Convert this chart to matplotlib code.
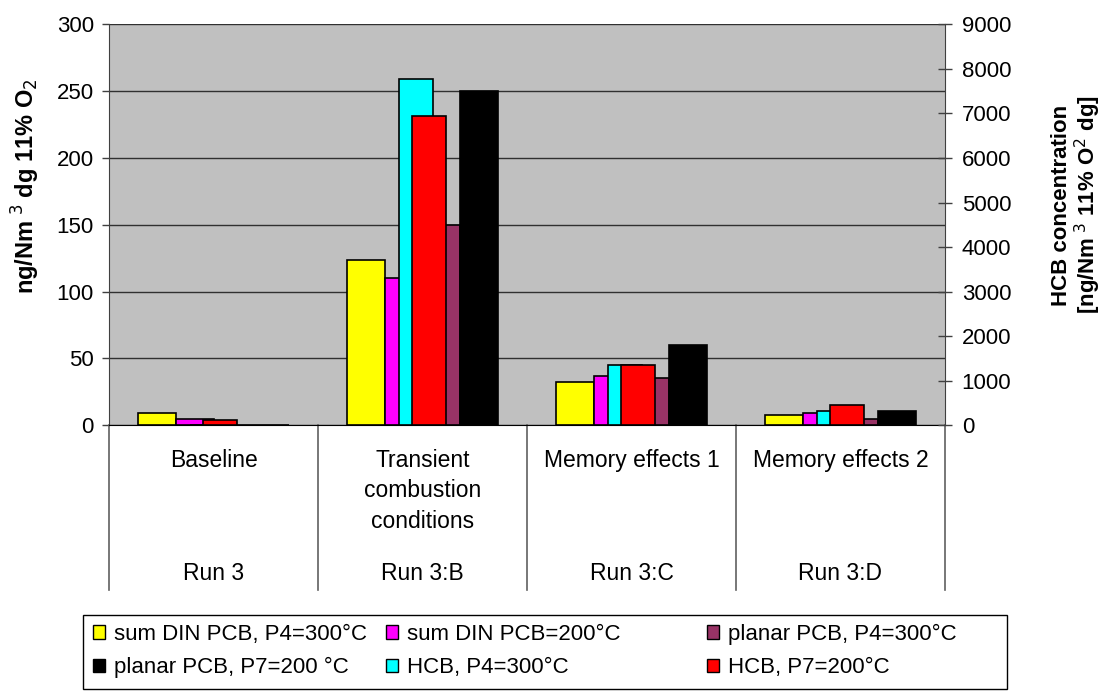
import numpy as np
import matplotlib
matplotlib.use("Agg")
import matplotlib.pyplot as plt
from matplotlib.lines import Line2D
from matplotlib.patches import Patch, Rectangle

plt.rcParams['font.family'] = ['Liberation Sans', 'DejaVu Sans']

# data
categories = ['Baseline', 'Transient\ncombustion\nconditions', 'Memory effects 1', 'Memory effects 2']
runs = ['Run 3', 'Run 3:B', 'Run 3:C', 'Run 3:D']

# left axis (PCB, ng/Nm3)
sum_din_p4 = [9, 124, 32.5, 8]
sum_din_200 = [5, 110, 37, 9]
planar_p4 = [0, 150, 35.5, 4.5]
planar_p7 = [0, 250, 60, 11]
# right axis (HCB, ng/Nm3)
hcb_p4 = [0, 7770, 1360, 320]
hcb_p7 = [110, 6940, 1360, 450]

x = np.arange(len(categories))

fig = plt.figure(figsize=(11.06, 6.94), dpi=100)
ax = fig.add_axes([0.0986, 0.3872, 0.7558, 0.5778])
ax.set_facecolor('#C0C0C0')

w1 = 0.18
primary = [(sum_din_p4, '#FFFF00'), (sum_din_200, '#FF00FF'),
           (planar_p4, '#993366'), (planar_p7, '#000000')]
for i, (vals, col) in enumerate(primary):
    ax.bar(x + (i - 1.5) * w1, vals, w1, color=col, edgecolor='black', linewidth=1.2, zorder=2)

ax.set_xlim(-0.5, 3.5)
ax.set_ylim(0, 300)
ax.set_yticks(np.arange(0, 301, 50))
ax.yaxis.grid(True, color='#303030', linewidth=1)
ax.set_axisbelow(True)
ax.tick_params(axis='y', labelsize=16, length=5, width=1, pad=6, color='#404040')
ax.set_xticks([])
for s in ['top', 'right']:
    ax.spines[s].set_visible(False)
ax.spines['left'].set_color('#404040')
ax.spines['bottom'].set_color('black')

ax2 = ax.twinx()
w2 = 0.16
d = 0.031
ax2.bar(x - d, hcb_p4, w2, color='#00FFFF', edgecolor='black', linewidth=1.2, zorder=3)
ax2.bar(x + d, hcb_p7, w2, color='#FF0000', edgecolor='black', linewidth=1.2, zorder=3)
ax2.set_ylim(0, 9000)
ax2.set_yticks(np.arange(0, 9001, 1000))
ax2.tick_params(axis='y', labelsize=16, length=10, width=1, pad=7, direction='inout', color='#404040')
for s in ['top', 'left', 'bottom']:
    ax2.spines[s].set_visible(False)
ax2.spines['right'].set_color('#404040')

# axis titles
fig.text(26 / 1106, 1 - 186 / 694, 'ng/Nm$^{\\ 3}$ dg 11% O$_2$', rotation=90,
         ha='center', va='center', fontsize=17, fontweight='bold')
fig.text(1077 / 1106, 1 - 205 / 694, 'HCB concentration\n[ng/Nm$^{\\ 3}$ 11% O$^2$ dg]',
         rotation=90, ha='center', va='center', fontsize=16, fontweight='bold',
         linespacing=1.05, multialignment='center')

# category separators and labels below the axis
for b in np.arange(-0.5, 4.0, 1.0):
    ax.add_line(Line2D([b, b], [0, -0.41], transform=ax.get_xaxis_transform(),
                       color='#606060', linewidth=1.2, clip_on=False))
for xi, cat, run in zip(x, categories, runs):
    ax.text(xi, -0.058, cat, transform=ax.get_xaxis_transform(), ha='center', va='top',
            fontsize=16.5, linespacing=1.42)
    ax.text(xi, -0.369, run, transform=ax.get_xaxis_transform(), ha='center', va='center',
            fontsize=16.5)

# legend: three columns placed like the reference, one frame around them
cols = [
    [Patch(facecolor='#FFFF00', edgecolor='black', label='sum DIN PCB, P4=300°C'),
     Patch(facecolor='#000000', edgecolor='black', label='planar PCB, P7=200 °C')],
    [Patch(facecolor='#FF00FF', edgecolor='black', label='sum DIN PCB=200°C'),
     Patch(facecolor='#00FFFF', edgecolor='black', label='HCB, P4=300°C')],
    [Patch(facecolor='#993366', edgecolor='black', label='planar PCB, P4=300°C'),
     Patch(facecolor='#FF0000', edgecolor='black', label='HCB, P7=200°C')],
]
col_x = [93 / 1106, 386 / 1106, 707 / 1106]
for hs, cx in zip(cols, col_x):
    fig.legend(handles=hs, loc='center left', bbox_to_anchor=(cx, 1 - 651 / 694),
               fontsize=16, frameon=False, borderpad=0, borderaxespad=0,
               handlelength=0.55, handleheight=0.55, handletextpad=0.4, labelspacing=0.55)
fig.patches.append(Rectangle((83 / 1106, 1 - 689 / 694), 924 / 1106, 74 / 694,
                             transform=fig.transFigure, fill=False, edgecolor='black',
                             linewidth=1))

fig.savefig('out.png', dpi=100)
